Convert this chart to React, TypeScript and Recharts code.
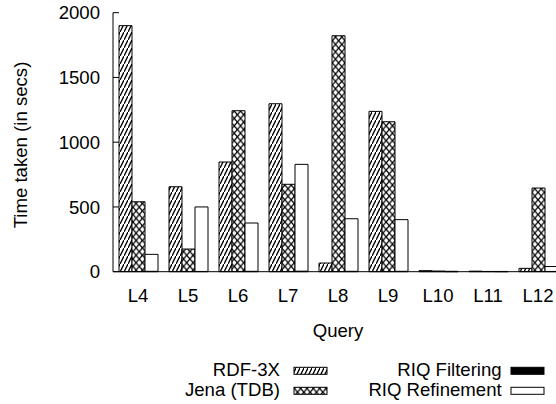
import React from 'react';
import { BarChart, Bar, XAxis, YAxis } from 'recharts';

const queries = ['L4', 'L5', 'L6', 'L7', 'L8', 'L9', 'L10', 'L11', 'L12'];
const rdf3x = [1900, 656, 847, 1297, 67, 1238, 8, 4, 26];
const jenaTdb = [540, 175, 1243, 675, 1822, 1158, 5, 2, 646];
const riqFiltering = [3, 2, 3, 4, 3, 3, 1, 1, 2];
const riqRefinement = [131, 498, 373, 825, 406, 399, 2, 1, 38];
const yTicks = [0, 500, 1000, 1500, 2000];

const data = queries.map((q, i) => ({
  q,
  rdf: rdf3x[i],
  jena: jenaTdb[i],
  filt: riqFiltering[i],
  refine: riqRefinement[i],
}));

const FONT = '"Liberation Sans", Arial, Helvetica, sans-serif';
const FS = 18.6;

export default function App() {
  return (
    <div style={{ position: 'absolute', left: 0, top: 0, width: 556, height: 404, overflow: 'hidden', background: '#fff' }}>
      <svg width={0} height={0} style={{ position: 'absolute' }}>
        <defs>
          <pattern id="hatch" patternUnits="userSpaceOnUse" width={4} height={8}>
            <rect width={4} height={8} fill="#fff" />
            <line x1={-1} y1={10} x2={5} y2={-2} stroke="#000" strokeWidth={1.4} />
          </pattern>
          <pattern id="cross" patternUnits="userSpaceOnUse" width={6.33} height={7.4}>
            <rect width={6.33} height={7.4} fill="#fff" />
            <line x1={0} y1={0} x2={6.33} y2={7.4} stroke="#000" strokeWidth={1.3} />
            <line x1={0} y1={7.4} x2={6.33} y2={0} stroke="#000" strokeWidth={1.3} />
          </pattern>
        </defs>
      </svg>
      <BarChart
        width={600}
        height={404}
        data={data}
        margin={{ top: 12.7, right: 37, left: 0, bottom: 102.3 }}
        barCategoryGap={6}
        barGap={0}
      >
        <XAxis
          dataKey="q"
          axisLine={{ stroke: '#000', strokeWidth: 1 }}
          tickLine={false}
          tickSize={0}
          tickMargin={17.3}
          height={30}
          interval={0}
          tick={{ fill: '#000', fontSize: FS, fontFamily: FONT }}
        />
        <XAxis
          xAxisId="top"
          dataKey="q"
          orientation="top"
          axisLine={{ stroke: '#000', strokeWidth: 1 }}
          tick={false}
          tickLine={false}
          height={0}
        />
        <YAxis
          domain={[0, 2000]}
          ticks={yTicks}
          width={113}
          axisLine={{ stroke: '#000', strokeWidth: 1 }}
          tickLine={{ stroke: '#000', strokeWidth: 1 }}
          tickSize={-6}
          tickMargin={19}
          interval={0}
          tick={{ fill: '#000', fontSize: FS, fontFamily: FONT }}
        />
        <Bar dataKey="rdf" stackId="a" fill="url(#hatch)" stroke="#000" strokeWidth={1} isAnimationActive={false} />
        <Bar dataKey="jena" stackId="b" fill="url(#cross)" stroke="#000" strokeWidth={1} isAnimationActive={false} />
        <Bar dataKey="filt" stackId="riq" fill="#000" stroke="#000" strokeWidth={1} isAnimationActive={false} />
        <Bar dataKey="refine" stackId="riq" fill="#fff" stroke="#000" strokeWidth={1} isAnimationActive={false} />
      </BarChart>
      <svg
        width={556}
        height={404}
        style={{ position: 'absolute', left: 0, top: 0, pointerEvents: 'none' }}
        fontFamily={FONT}
        fontSize={FS}
      >
        <text x={27} y={145} textAnchor="middle" transform="rotate(-90 27 145)" fill="#000">
          Time taken (in secs)
        </text>
        <text x={338} y={337.3} textAnchor="middle" fill="#000">Query</text>
        <text x={280} y={375.7} textAnchor="end" fill="#000">RDF-3X</text>
        <rect x={294} y={367.3} width={33} height={7} fill="url(#hatch)" stroke="#000" strokeWidth={1} />
        <text x={280} y={395.7} textAnchor="end" fill="#000">Jena (TDB)</text>
        <rect x={294} y={387.3} width={33} height={7} fill="url(#cross)" stroke="#000" strokeWidth={1} />
        <text x={501.7} y={375.7} textAnchor="end" fill="#000">RIQ Filtering</text>
        <rect x={511} y={367.3} width={33} height={7} fill="#000" stroke="#000" strokeWidth={1} />
        <text x={501.7} y={395.7} textAnchor="end" fill="#000">RIQ Refinement</text>
        <rect x={511} y={387.3} width={33} height={7} fill="#fff" stroke="#000" strokeWidth={1} />
      </svg>
    </div>
  );
}
